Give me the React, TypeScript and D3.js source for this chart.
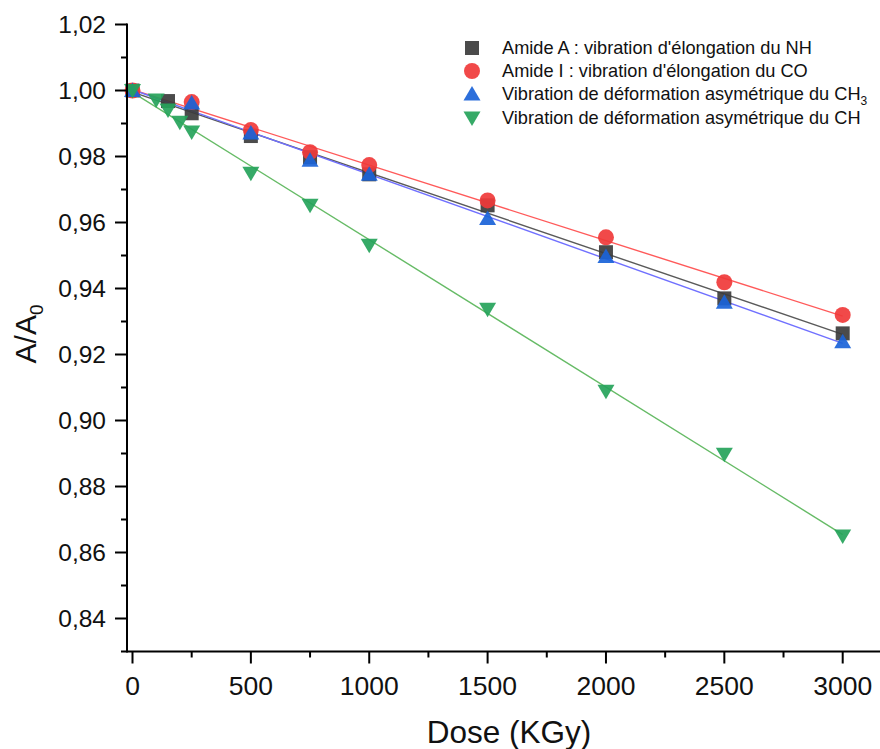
import React from "react";
import * as d3 from "d3";

// ---- data ----
const doseNH = [0, 150, 250, 500, 750, 1000, 1500, 2000, 2500, 3000];
const valNH = [1.0, 0.9968, 0.9931, 0.9862, 0.9798, 0.9746, 0.9652, 0.951, 0.937, 0.9264];

const doseCO = [0, 250, 500, 750, 1000, 1500, 2000, 2500, 3000];
const valCO = [1.0, 0.9965, 0.988, 0.9813, 0.9774, 0.9667, 0.9555, 0.9419, 0.932];

const doseCH3 = [0, 250, 500, 750, 1000, 1500, 2000, 2500, 3000];
const valCH3 = [1.0, 0.9962, 0.9871, 0.9789, 0.9746, 0.9612, 0.9497, 0.9358, 0.9239];

const doseCH = [0, 100, 150, 200, 250, 500, 750, 1000, 1500, 2000, 2500, 3000];
const valCH = [1.0, 0.9971, 0.9941, 0.9904, 0.9874, 0.9749, 0.9652, 0.9531, 0.9337, 0.9089, 0.8898, 0.865];

const xMajor = [0, 500, 1000, 1500, 2000, 2500, 3000];
const xMinor = [250, 750, 1250, 1750, 2250, 2750];
const yMajor = [0.84, 0.86, 0.88, 0.9, 0.92, 0.94, 0.96, 0.98, 1.0, 1.02];
const yMinor = [0.85, 0.87, 0.89, 0.91, 0.93, 0.95, 0.97, 0.99, 1.01];

const legendLabels = [
  "Amide A : vibration d'élongation du NH",
  "Amide I : vibration d'élongation du CO",
  "Vibration de déformation asymétrique du CH",
  "Vibration de déformation asymétrique du CH",
];

const FONT = "Arial, 'Liberation Sans', Helvetica, sans-serif";

type Shape = "square" | "circle" | "up" | "down";

function markerPath(shape: Shape): string {
  switch (shape) {
    case "square":
      return "M-7,-7H7V7H-7Z";
    case "circle":
      return "M-8,0A8,8 0 1,0 8,0A8,8 0 1,0 -8,0Z";
    case "up":
      return "M0,-8L8.5,6.5L-8.5,6.5Z";
    case "down":
      return "M0,8L8.5,-6.5L-8.5,-6.5Z";
  }
}

function fit(xs: number[], ys: number[]) {
  const mx = d3.mean(xs)!;
  const my = d3.mean(ys)!;
  let num = 0,
    den = 0;
  xs.forEach((x, i) => {
    num += (x - mx) * (ys[i] - my);
    den += (x - mx) * (x - mx);
  });
  const b = num / den;
  const a = my - b * mx;
  return (x: number) => a + b * x;
}

export default function App() {
  const x = d3.scaleLinear().domain([0, 3000]).range([132.5, 842.7]);
  const y = d3.scaleLinear().domain([0.83, 1.02]).range([651.5, 24.5]);
  const axisX = 127;
  const axisY = y(0.83);

  const series = [
    { d: doseNH, v: valNH, shape: "square" as Shape, fill: "#3c3c3c", line: "#5a5a5a" },
    { d: doseCO, v: valCO, shape: "circle" as Shape, fill: "#f03a3a", line: "#ff5a5a" },
    { d: doseCH3, v: valCH3, shape: "up" as Shape, fill: "#1a63d8", line: "#7070ff" },
    { d: doseCH, v: valCH, shape: "down" as Shape, fill: "#25a35a", line: "#66bb66" },
  ];

  const fmt = (v: number) => d3.format(".2f")(v).replace(".", ",");

  return (
    <svg
      width={880}
      height={749}
      style={{ position: "absolute", left: 0, top: 0, background: "#fff" }}
      fontFamily={FONT}
    >
      <rect x={0} y={0} width={880} height={749} fill="#fff" />
      {/* fit lines */}
      {series.map((s, i) => {
        const f = fit(s.d, s.v);
        const pts: [number, number][] = [0, 3000].map((d) => [x(d), y(f(d))]);
        return (
          <path
            key={"l" + i}
            d={d3.line()(pts) || ""}
            stroke={s.line}
            strokeWidth={1.4}
            fill="none"
          />
        );
      })}
      {/* markers */}
      {series.map((s, i) =>
        s.d.map((d, j) => (
          <path
            key={"m" + i + "-" + j}
            d={markerPath(s.shape)}
            transform={`translate(${x(d)},${y(s.v[j])})`}
            fill={s.fill}
            fillOpacity={0.92}
          />
        ))
      )}
      {/* axes */}
      <line x1={axisX} x2={axisX} y1={y(1.02) - 1} y2={axisY + 1} stroke="#000" strokeWidth={2} />
      <line x1={121} x2={880} y1={axisY} y2={axisY} stroke="#000" strokeWidth={2} />
      {yMajor.map((v) => (
        <g key={"ym" + v}>
          <line x1={axisX - 12} x2={axisX} y1={y(v)} y2={y(v)} stroke="#000" strokeWidth={2} />
          <text x={106} y={y(v) + 8.5} textAnchor="end" fontSize={24.5} fill="#111">
            {fmt(v)}
          </text>
        </g>
      ))}
      {yMinor.map((v) => (
        <line key={"yn" + v} x1={axisX - 6} x2={axisX} y1={y(v)} y2={y(v)} stroke="#000" strokeWidth={2} />
      ))}
      {xMajor.map((v) => (
        <g key={"xm" + v}>
          <line x1={x(v)} x2={x(v)} y1={axisY} y2={axisY + 12} stroke="#000" strokeWidth={2} />
          <text x={x(v)} y={695} textAnchor="middle" fontSize={26.5} fill="#111">
            {v}
          </text>
        </g>
      ))}
      {xMinor.map((v) => (
        <line key={"xn" + v} x1={x(v)} x2={x(v)} y1={axisY} y2={axisY + 6} stroke="#000" strokeWidth={2} />
      ))}
      {/* axis titles */}
      <text x={509} y={743} textAnchor="middle" fontSize={31.5} fill="#111">
        Dose (KGy)
      </text>
      <text
        transform="translate(36,334) rotate(-90)"
        textAnchor="middle"
        fontSize={30}
        fill="#111"
      >
        A/A<tspan dy={7} fontSize={19}>0</tspan>
      </text>
      {/* legend */}
      {series.map((s, i) => {
        const ly = [48, 71, 94, 118][i];
        return (
          <g key={"lg" + i}>
            <path d={markerPath(s.shape)} transform={`translate(472,${ly})`} fill={s.fill} fillOpacity={0.92} />
            <text x={502} y={ly + 6} fontSize={18.2} fill="#111">
              {legendLabels[i]}
              {i === 2 ? (
                <tspan dy={5} fontSize={12}>
                  3
                </tspan>
              ) : null}
            </text>
          </g>
        );
      })}
    </svg>
  );
}
